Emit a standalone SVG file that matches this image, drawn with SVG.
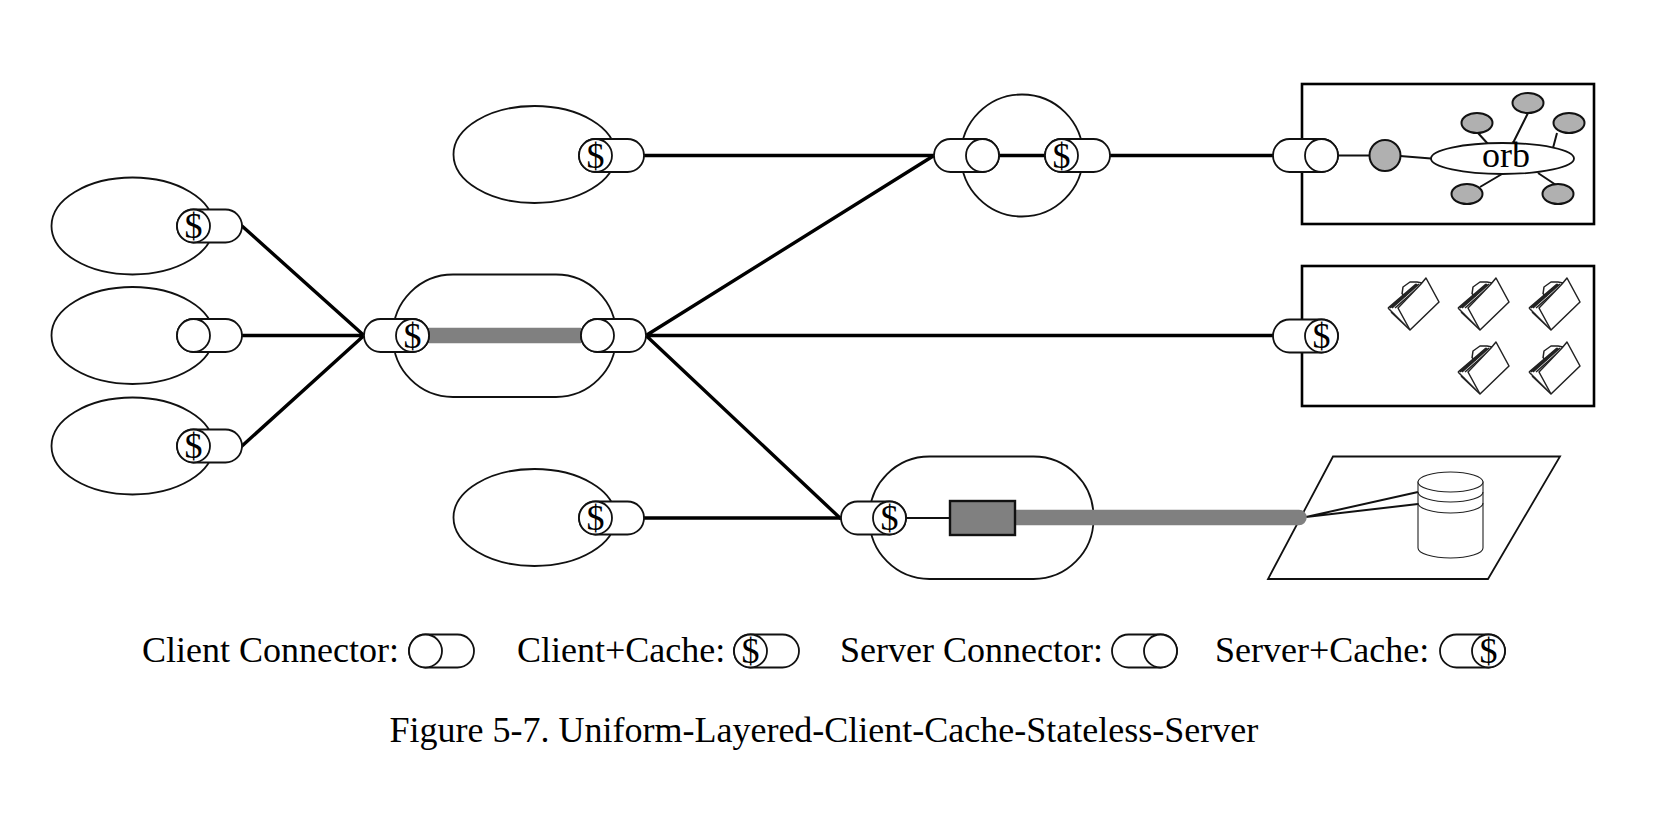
<svg xmlns="http://www.w3.org/2000/svg" xmlns:xlink="http://www.w3.org/1999/xlink" width="1672" height="814" viewBox="0 0 1672 814">
<style>
text{font-family:"Liberation Serif","Times New Roman",serif;fill:#000;font-size:36px}
.d{text-anchor:middle}
.s{fill:#fff;stroke:#111;stroke-width:1.8}
.b{fill:#fff;stroke:#000;stroke-width:2.6}
.g{fill:#b0b0b0;stroke:#111;stroke-width:2}
.w{stroke:#000;stroke-width:3.4;fill:none;stroke-linecap:round}
.t{stroke:#111;stroke-width:2;fill:none}
.h{stroke:#808080;stroke-width:15.500;fill:none}
.f{fill:none;stroke:#222;stroke-width:1.500;stroke-linejoin:round}
.c{fill:#fff;stroke:#222;stroke-width:1.100}
</style>
<defs>
<g id="pill-l"><rect class="s" x="0" y="-16.5" width="65" height="33" rx="16.5"/><circle class="s" cx="16.5" cy="0" r="16.5"/></g>
<g id="pill-r"><rect class="s" x="0" y="-16.5" width="65" height="33" rx="16.5"/><circle class="s" cx="48.5" cy="0" r="16.5"/></g>
<!-- open folder seen at an angle: leaves, tab, then the front sheet -->
<g id="folder">
<path class="f" d="M8,38L30,60M11,42L30,60M14,44L30,60M8,38L36,14M10,38L37,14M12,38L39,14M15,38L41,15"/>
<path class="f" d="M22,24L23,17L30,12L37,12L42,13L38,19M22,24L26,26"/>
<path class="f" style="fill:#fff" d="M18,38L30,60L59,32L46,8L41,14Z"/>
</g>
</defs>
<rect width="1672" height="814" fill="#fff"/>

<g id="clients">
<ellipse class="s" cx="132.500" cy="226" rx="81" ry="48.5"/>
<ellipse class="s" cx="132.500" cy="335.5" rx="81" ry="48.5"/>
<ellipse class="s" cx="132.500" cy="446" rx="81" ry="48.5"/>
<ellipse class="s" cx="534.500" cy="154.5" rx="81" ry="48.5"/>
<ellipse class="s" cx="534.500" cy="517.5" rx="81" ry="48.5"/>
</g>
<g id="gateway-body"><rect class="s" x="393" y="274.500" width="223" height="122.500" rx="60" ry="60"/></g>
<g id="proxy-body"><circle class="s" cx="1022" cy="155.500" r="61"/></g>
<g id="origin-body"><rect class="s" x="869.500" y="456.500" width="224" height="122.500" rx="60" ry="60"/></g>

<g id="server-orb">
<rect class="b" x="1302" y="84" width="292" height="140"/>
<path class="t" d="M1478,133L1488,144M1528,113L1513,143M1557,133L1553,148M1480,187L1502,174M1556,185L1538,173"/>
<ellipse class="s" cx="1502.500" cy="158.500" rx="71.500" ry="15.500"/>
<ellipse class="g" cx="1477" cy="123" rx="15.500" ry="10"/>
<ellipse class="g" cx="1528" cy="103" rx="15.500" ry="10"/>
<ellipse class="g" cx="1569" cy="123" rx="15.500" ry="10"/>
<ellipse class="g" cx="1467" cy="194" rx="15.500" ry="10"/>
<ellipse class="g" cx="1558" cy="194" rx="15.500" ry="10"/>
<text class="d" x="1506" y="167">orb</text>
</g>

<g id="server-files">
<rect class="b" x="1302" y="266" width="292" height="140"/>
<use xlink:href="#folder" href="#folder" x="1380" y="270"/>
<use xlink:href="#folder" href="#folder" x="1450" y="270"/>
<use xlink:href="#folder" href="#folder" x="1521" y="270"/>
<use xlink:href="#folder" href="#folder" x="1450" y="334"/>
<use xlink:href="#folder" href="#folder" x="1521" y="334"/>
</g>

<g id="server-database">
<path class="s" d="M1333,456.500H1560L1488,579H1268Z"/>
<path class="t" d="M1306,517L1418,492M1306,517L1418,504"/>
<path class="c" d="M1418,482V548A32.500,10 0 0 0 1483,548V482Z"/>
<ellipse class="c" cx="1450.500" cy="482" rx="32.500" ry="10"/>
<path class="c" style="fill:none" d="M1418,492A32.500,10 0 0 0 1483,492M1418,503A32.500,10 0 0 0 1483,503"/>
</g>

<g id="connectors">
<path class="w" d="M242,226L364,335.500M242,335.500H364M242,446L364,335.500"/>
<path class="w" d="M646,335.500L934,155.500M646,335.500H1273M646,335.500L840,518"/>
<path class="w" d="M644,155.500H934M999,155.500H1045M1110,155.500H1273M644,518H840"/>
<path class="h" d="M428,335.500H581"/>
<path class="t" d="M906,518H950"/>
<path class="h" style="stroke-linecap:round" d="M1015,517.500H1299"/>
<path class="t" d="M1338,155.500H1370M1400,156L1431,158.500"/>
</g>

<g id="orb-client"><circle class="g" cx="1385" cy="155.500" r="15.500"/></g>
<g id="gateway-unit"><rect x="950" y="501" width="65" height="34" fill="#808080" stroke="#111" stroke-width="2.400"/></g>

<g id="conn-c1"><use xlink:href="#pill-l" href="#pill-l" x="177" y="226"/><text class="d" x="193.500" y="238">$</text></g>
<g id="conn-c2"><use xlink:href="#pill-l" href="#pill-l" x="177" y="335.500"/></g>
<g id="conn-c3"><use xlink:href="#pill-l" href="#pill-l" x="177" y="446"/><text class="d" x="193.500" y="458">$</text></g>
<g id="conn-c4"><use xlink:href="#pill-l" href="#pill-l" x="579" y="155.500"/><text class="d" x="595.500" y="167.500">$</text></g>
<g id="conn-c5"><use xlink:href="#pill-l" href="#pill-l" x="579" y="518"/><text class="d" x="595.500" y="530">$</text></g>
<g id="conn-g1"><use xlink:href="#pill-r" href="#pill-r" x="364" y="335.500"/><text class="d" x="412.500" y="347.500">$</text></g>
<g id="conn-g2"><use xlink:href="#pill-l" href="#pill-l" x="581" y="335.500"/></g>
<g id="conn-p1"><use xlink:href="#pill-r" href="#pill-r" x="934" y="155.500"/></g>
<g id="conn-p2"><use xlink:href="#pill-l" href="#pill-l" x="1045" y="155.500"/><text class="d" x="1061.500" y="167.500">$</text></g>
<g id="conn-s1"><use xlink:href="#pill-r" href="#pill-r" x="1273" y="155.500"/></g>
<g id="conn-s2"><use xlink:href="#pill-r" href="#pill-r" x="1273" y="336"/><text class="d" x="1321.500" y="348">$</text></g>
<g id="conn-o1"><use xlink:href="#pill-r" href="#pill-r" x="841" y="518"/><text class="d" x="889.500" y="530">$</text></g>

<g id="legend">
<text x="142" y="662">Client Connector:</text>
<use xlink:href="#pill-l" href="#pill-l" x="409" y="651"/>
<text x="517" y="662">Client+Cache:</text>
<use xlink:href="#pill-l" href="#pill-l" x="734" y="651"/>
<text class="d" x="750.500" y="663">$</text>
<text x="840" y="662">Server Connector:</text>
<use xlink:href="#pill-r" href="#pill-r" x="1112" y="651"/>
<text x="1215" y="662">Server+Cache:</text>
<use xlink:href="#pill-r" href="#pill-r" x="1440" y="651"/>
<text class="d" x="1488.500" y="663">$</text>
</g>
<text id="caption" x="389.500" y="742">Figure 5-7. Uniform-Layered-Client-Cache-Stateless-Server</text>
</svg>
